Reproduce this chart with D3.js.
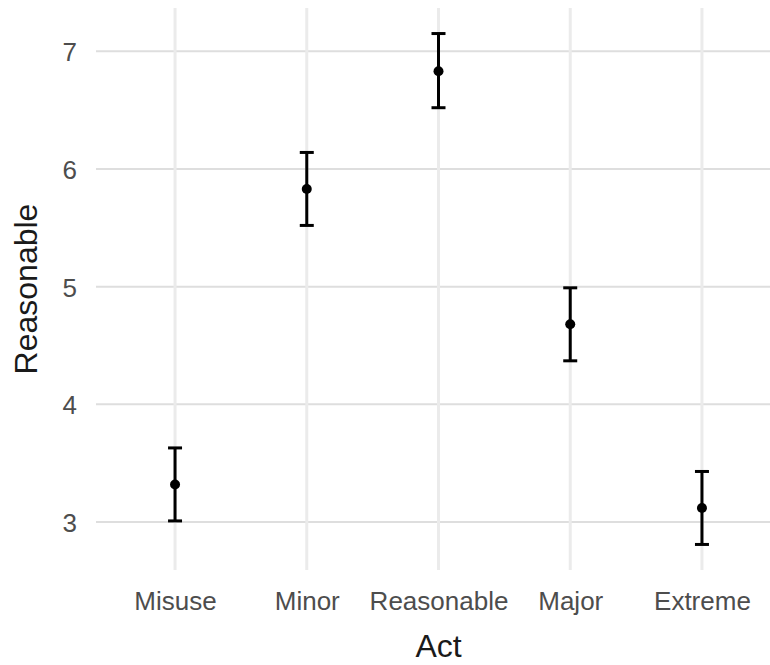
<!DOCTYPE html>
<html>
<head>
<meta charset="utf-8">
<script src="https://cdn.jsdelivr.net/npm/d3@7"></script>
<style>
  html, body { margin: 0; padding: 0; background: #fff; }
  svg { display: block; font-family: "Liberation Sans", Arial, sans-serif; }
</style>
</head>
<body>
<div id="chart"></div>
<script>
const WIDTH = 770;
const HEIGHT = 665;

// data
const acts = ["Misuse", "Minor", "Reasonable", "Major", "Extreme"];
const means = [3.32, 5.83, 6.83, 4.68, 3.12];
const lower = [3.01, 5.52, 6.52, 4.37, 2.81];
const upper = [3.63, 6.14, 7.15, 4.99, 3.43];
const yTicks = [3, 4, 5, 6, 7];

const rows = acts.map((a, i) => ({ act: a, mean: means[i], lo: lower[i], hi: upper[i] }));

// panel box (right side runs off the image, like the original)
const panel = { left: 96, top: 8, right: 781, bottom: 570 };

const svg = d3.select("#chart").append("svg")
  .attr("width", WIDTH)
  .attr("height", HEIGHT);

// ggplot-style 5% expansion
const lo = d3.min(lower), hi = d3.max(upper);
const pad = (hi - lo) * 0.05;

const y = d3.scaleLinear()
  .domain([lo - pad, hi + pad])
  .range([panel.bottom, panel.top]);

const x = d3.scalePoint()
  .domain(acts)
  .range([panel.left, panel.right])
  .padding(0.6);

// grid
const grid = svg.append("g");
grid.selectAll("line.h")
  .data(yTicks)
  .enter().append("line")
  .attr("class", "h")
  .attr("x1", panel.left).attr("x2", WIDTH)
  .attr("y1", d => y(d)).attr("y2", d => y(d))
  .attr("stroke", "#dedede")
  .attr("stroke-width", 2);

grid.selectAll("line.v")
  .data(acts)
  .enter().append("line")
  .attr("class", "v")
  .attr("x1", d => x(d)).attr("x2", d => x(d))
  .attr("y1", panel.top).attr("y2", panel.bottom)
  .attr("stroke", "#ebebeb")
  .attr("stroke-width", 3);

// axes (no lines, just labels)
const yAxis = svg.append("g")
  .attr("transform", `translate(${panel.left - 19},0)`)
  .call(d3.axisLeft(y).tickValues(yTicks).tickSize(0).tickPadding(0).tickFormat(d3.format("d")));
yAxis.select(".domain").remove();
yAxis.selectAll("text")
  .attr("fill", "#4d4d4d")
  .style("font-size", "26px")
  .attr("dy", "0.36em");

const xAxis = svg.append("g")
  .attr("transform", `translate(0,${panel.bottom})`)
  .call(d3.axisBottom(x).tickSize(0).tickPadding(0));
xAxis.select(".domain").remove();
xAxis.selectAll("text")
  .attr("fill", "#4d4d4d")
  .style("font-size", "26px")
  .attr("dy", null)
  .attr("y", 40);

// error bars
const capHalf = 7;
const bars = svg.append("g").selectAll("g")
  .data(rows)
  .enter().append("g");

bars.append("line")
  .attr("x1", d => x(d.act)).attr("x2", d => x(d.act))
  .attr("y1", d => y(d.lo)).attr("y2", d => y(d.hi))
  .attr("stroke", "#000").attr("stroke-width", 3);

bars.append("line")
  .attr("x1", d => x(d.act) - capHalf).attr("x2", d => x(d.act) + capHalf)
  .attr("y1", d => y(d.hi)).attr("y2", d => y(d.hi))
  .attr("stroke", "#000").attr("stroke-width", 3);

bars.append("line")
  .attr("x1", d => x(d.act) - capHalf).attr("x2", d => x(d.act) + capHalf)
  .attr("y1", d => y(d.lo)).attr("y2", d => y(d.lo))
  .attr("stroke", "#000").attr("stroke-width", 3);

bars.append("circle")
  .attr("cx", d => x(d.act))
  .attr("cy", d => y(d.mean))
  .attr("r", 5)
  .attr("fill", "#000");

// titles
svg.append("text")
  .attr("x", (panel.left + panel.right) / 2)
  .attr("y", 657)
  .attr("text-anchor", "middle")
  .attr("fill", "#1a1a1a")
  .style("font-size", "32px")
  .text("Act");

svg.append("text")
  .attr("transform", `translate(37,${(panel.top + panel.bottom) / 2}) rotate(-90)`)
  .attr("text-anchor", "middle")
  .attr("fill", "#1a1a1a")
  .style("font-size", "32px")
  .text("Reasonable");
</script>
</body>
</html>
